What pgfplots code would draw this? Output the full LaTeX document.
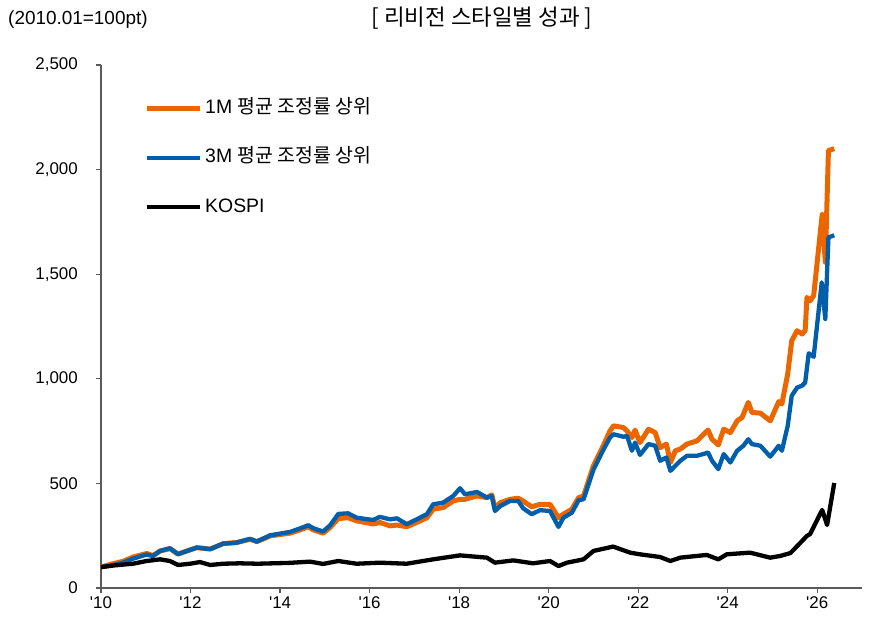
\documentclass[border=0pt]{standalone}
\usepackage{fontspec}
\setmainfont{Liberation Sans}
\newfontfamily\kr{Noto Sans CJK KR}
\usepackage{pgfplots}
\pgfplotsset{compat=1.18}
\definecolor{cor}{RGB}{236,102,0}
\definecolor{cbl}{RGB}{0,94,170}
\definecolor{axgray}{RGB}{90,90,90}
\begin{document}
\begin{tikzpicture}[x=1bp,y=1bp]
\useasboundingbox (-101,-36) rectangle (775,588);
\begin{axis}[
  at={(0,0)}, anchor=south west,
  width=761bp, height=523bp, scale only axis,
  xmin=2010, xmax=2027, ymin=0, ymax=2500,
  axis x line*=bottom, axis y line*=left,
  axis line style={axgray, line width=1.2pt},
  tick style={axgray, line width=1.2pt},
  major tick length=5bp, tick align=outside,
  xtick={2010,2012,...,2026},
  xticklabels={\textquotesingle10,\textquotesingle12,\textquotesingle14,\textquotesingle16,\textquotesingle18,\textquotesingle20,\textquotesingle22,\textquotesingle24,\textquotesingle26},
  ytick={0,500,...,2500},
  tick label style={font=\fontsize{17}{20}\selectfont},
  yticklabel style={inner sep=0pt, xshift=-18bp},
  /pgf/number format/1000 sep={,},
  /pgf/number format/assume math mode=true,
  legend image code/.code={\draw[#1] (0bp,0bp) -- (53bp,0bp);},
  legend cell align=left,
  legend style={draw=none, fill=none, at={(0.0565,0.935)}, anchor=north west,
    inner sep=0pt, row sep=31.5bp, column sep=3bp,
    font=\fontsize{19.5}{22}\selectfont,
    nodes={inner sep=0pt, text height=14bp, text depth=4bp}},
]
\addplot[cor, line width=5bp, line join=round] coordinates {
(2010.00,100)(2010.25,115)(2010.50,128)(2010.715,148)(2011.02,165)(2011.16,155)
(2011.32,177)(2011.54,188)(2011.72,162)(2011.92,177)(2012.14,193)(2012.44,186)
(2012.73,212)(2013.03,217)(2013.33,233)(2013.48,222)(2013.62,234)(2013.78,249)
(2014.22,262)(2014.45,278)(2014.63,293)(2014.74,278)(2014.96,262)(2015.12,290)
(2015.30,332)(2015.52,336)(2015.71,321)(2016.08,306)(2016.23,313)(2016.46,297)
(2016.61,301)(2016.83,293)(2017.05,313)(2017.28,336)(2017.42,377)(2017.64,384)
(2017.87,416)(2018.02,424)(2018.13,424)(2018.40,440)(2018.62,432)(2018.73,445)
(2018.80,382)(2018.92,408)(2019.14,424)(2019.32,429)(2019.43,416)(2019.62,388)
(2019.81,400)(2020.03,400)(2020.22,336)(2020.33,353)(2020.52,377)(2020.67,432)
(2020.78,440)(2021.00,584)(2021.22,680)(2021.37,751)(2021.45,775)(2021.67,767)
(2021.75,751)(2021.86,719)(2021.93,755)(2022.04,695)(2022.23,759)(2022.38,743)
(2022.49,671)(2022.63,688)(2022.72,600)(2022.83,656)(2022.94,664)(2023.09,688)
(2023.31,703)(2023.56,755)(2023.65,711)(2023.79,684)(2023.91,759)(2024.06,743)
(2024.21,799)(2024.32,815)(2024.46,887)(2024.54,839)(2024.73,836)(2024.95,799)
(2025.14,891)(2025.21,880)(2025.34,1023)(2025.43,1182)(2025.55,1230)(2025.66,1214)
(2025.73,1230)(2025.77,1389)(2025.84,1373)(2025.92,1397)(2026.11,1785)(2026.18,1557)
(2026.25,2091)(2026.38,2100)
};
\addlegendentry{1M {\kr 평균 조정률 상위}}
\addplot[cbl, line width=4.3bp, line join=round] coordinates {
(2010.00,100)(2010.25,108)(2010.50,122)(2010.715,140)(2011.02,160)(2011.16,153)
(2011.32,177)(2011.54,190)(2011.72,162)(2011.92,177)(2012.14,193)(2012.44,186)
(2012.73,212)(2013.03,217)(2013.33,235)(2013.48,222)(2013.62,236)(2013.78,252)
(2014.22,268)(2014.45,285)(2014.63,300)(2014.74,286)(2014.96,270)(2015.12,300)
(2015.30,354)(2015.52,357)(2015.71,336)(2016.08,325)(2016.23,340)(2016.46,328)
(2016.61,333)(2016.83,305)(2017.05,328)(2017.28,353)(2017.42,400)(2017.64,408)
(2017.87,440)(2018.02,477)(2018.13,448)(2018.40,459)(2018.62,432)(2018.73,440)
(2018.80,368)(2018.92,392)(2019.14,416)(2019.32,416)(2019.43,381)(2019.62,353)
(2019.81,372)(2020.03,368)(2020.22,292)(2020.33,336)(2020.52,360)(2020.67,420)
(2020.78,424)(2021.00,565)(2021.22,660)(2021.37,719)(2021.45,735)(2021.67,723)
(2021.75,727)(2021.86,656)(2021.93,695)(2022.04,636)(2022.23,688)(2022.38,680)
(2022.49,608)(2022.63,624)(2022.72,560)(2022.83,584)(2022.94,608)(2023.09,632)
(2023.31,632)(2023.50,643)(2023.56,648)(2023.65,608)(2023.79,568)(2023.91,640)
(2024.06,600)(2024.21,656)(2024.35,680)(2024.46,711)(2024.54,688)(2024.73,680)
(2024.95,628)(2025.14,680)(2025.21,656)(2025.34,775)(2025.43,919)(2025.55,958)
(2025.66,967)(2025.73,982)(2025.81,1122)(2025.92,1105)(2026.10,1461)(2026.18,1286)
(2026.25,1676)(2026.38,1686)
};
\addlegendentry{3M {\kr 평균 조정률 상위}}
\addplot[black, line width=4.3bp, line join=round] coordinates {
(2010.00,100)(2010.30,108)(2010.715,116)(2011.02,129)(2011.32,137)(2011.54,129)
(2011.72,110)(2011.99,116)(2012.21,124)(2012.44,110)(2012.73,116)(2013.10,118)
(2013.50,116)(2014.20,120)(2014.67,126)(2014.96,115)(2015.30,129)(2015.71,116)
(2016.23,121)(2016.83,116)(2017.42,137)(2018.02,156)(2018.62,145)(2018.80,121)
(2019.21,132)(2019.65,118)(2020.03,129)(2020.22,105)(2020.41,121)(2020.78,137)
(2021.00,177)(2021.44,198)(2021.82,169)(2022.04,161)(2022.49,148)(2022.72,129)
(2022.94,145)(2023.53,158)(2023.79,137)(2023.98,161)(2024.50,169)(2024.95,145)
(2025.17,153)(2025.40,167)(2025.55,200)(2025.77,249)(2025.84,258)(2026.11,373)
(2026.22,301)(2026.38,502)
};
\addlegendentry{KOSPI}
\end{axis}
\node[anchor=west, inner sep=0pt, font=\fontsize{19}{22}\selectfont] at (-93,568) {(2010.01=100pt)};
\node[inner sep=0pt, font=\fontsize{22.5}{26}\selectfont] at (381,570) {\kr [ 리비전 스타일별 성과 ]};
\end{tikzpicture}
\end{document}
